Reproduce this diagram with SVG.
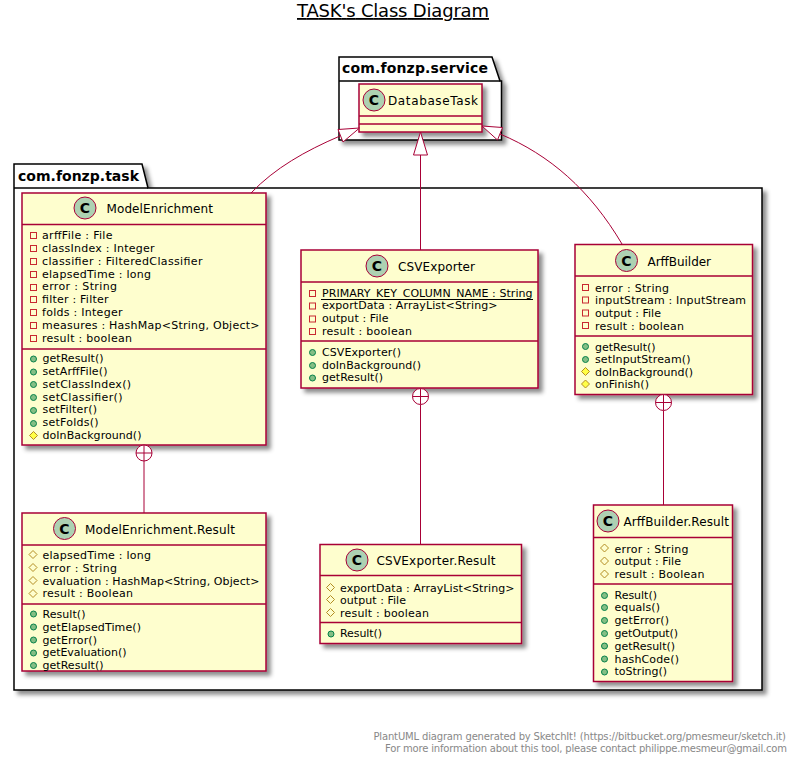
<svg xmlns="http://www.w3.org/2000/svg" width="797" height="764" viewBox="0 0 797 764">
<style>
text{font-family:"DejaVu Sans",sans-serif;fill:#000}
.t{font-size:18px;text-decoration:underline}
.f{font-size:10px;fill:#888}
.p{font-size:14px;font-weight:bold}
.n{font-size:12px}
.m{font-size:11px}
.b{fill:#FEFECE;stroke:#A80036;stroke-width:1.5}
.s{stroke:#A80036;stroke-width:1.5;fill:none}
.pk{fill:#fff;stroke:#000;stroke-width:1.5}
.ci{fill:#ADD1B2;stroke:#A80036}
.cl{font-size:14px;font-weight:bold;text-anchor:middle}
.e{fill:none;stroke:#A80036}
.h{fill:#fff;stroke:#A80036}
.pr{fill:none;stroke:#C82930}
.pt{fill:none;stroke:#B38D22}
.py{fill:#FFFF44;stroke:#B38D22}
.pb{fill:#84BE84;stroke:#038048}
</style>
<defs>
<filter id="sh" x="-10%" y="-10%" width="125%" height="125%"><feDropShadow dx="4" dy="4" stdDeviation="2" flood-color="#000" flood-opacity="0.45"/></filter>
</defs>
<text class="t" x="297" y="17" textLength="192">TASK's Class Diagram</text>
<g id="pkg-service">
<path class="pk" filter="url(#sh)" d="M339 57H492L500 81H501.500V140H339Z"/>
<path class="s" style="stroke:#000" d="M339 81H500"/>
<text class="p" x="342" y="73" textLength="146">com.fonzp.service</text>
</g>
<g id="pkg-task">
<path class="pk" filter="url(#sh)" d="M14 164H142L148 188H762V690H14Z"/>
<path class="s" style="stroke:#000" d="M14 188H148"/>
<text class="p" x="18" y="181" textLength="121">com.fonzp.task</text>
</g>
<g id="DatabaseTask">
<rect class="b" filter="url(#sh)" x="359" y="84" width="123" height="48"/>
<path class="s" d="M359 116H482M359 124H482"/>
<circle class="ci" cx="374" cy="100" r="11"/><text class="cl" x="374" y="105">C</text>
<text class="n" x="388" y="105" textLength="90">DatabaseTask</text>
</g>
<g id="ModelEnrichment">
<rect class="b" filter="url(#sh)" x="22" y="193" width="244" height="252"/>
<path class="s" d="M22 224.500H266M22 349H266"/>
<circle class="ci" cx="85" cy="208" r="11"/><text class="cl" x="85" y="213">C</text>
<text class="n" x="106.500" y="213" textLength="106.500">ModelEnrichment</text>
<g class="pr"><rect x="30.500" y="232.500" width="6" height="6"/><rect x="30.500" y="245.500" width="6" height="6"/><rect x="30.500" y="258.500" width="6" height="6"/><rect x="30.500" y="271.500" width="6" height="6"/><rect x="30.500" y="284.500" width="6" height="6"/><rect x="30.500" y="296.500" width="6" height="6"/><rect x="30.500" y="309.500" width="6" height="6"/><rect x="30.500" y="322.500" width="6" height="6"/><rect x="30.500" y="335.500" width="6" height="6"/></g>
<text class="m" x="42" y="239" textLength="70.500">arffFile : File</text>
<text class="m" x="42" y="252" textLength="112.500">classIndex : Integer</text>
<text class="m" x="42" y="265" textLength="160.500">classifier : FilteredClassifier</text>
<text class="m" x="42" y="278" textLength="109">elapsedTime : long</text>
<text class="m" x="42" y="290" textLength="75">error : String</text>
<text class="m" x="42" y="303" textLength="66.500">filter : Filter</text>
<text class="m" x="42" y="316" textLength="80.500">folds : Integer</text>
<text class="m" x="42" y="329" textLength="217.500">measures : HashMap&lt;String, Object&gt;</text>
<text class="m" x="42" y="342" textLength="90">result : boolean</text>
<g class="pb"><circle cx="33.500" cy="359" r="3"/><circle cx="33.500" cy="372" r="3"/><circle cx="33.500" cy="384.500" r="3"/><circle cx="33.500" cy="397.500" r="3"/><circle cx="33.500" cy="410.500" r="3"/><circle cx="33.500" cy="423.500" r="3"/></g>
<path class="py" d="M33.500 431.500L37.500 435.500L33.500 439.500L29.500 435.500Z"/>
<text class="m" x="42.500" y="362" textLength="61">getResult()</text>
<text class="m" x="42.500" y="375" textLength="65">setArffFile()</text>
<text class="m" x="42.500" y="388" textLength="88.500">setClassIndex()</text>
<text class="m" x="42.500" y="401" textLength="80">setClassifier()</text>
<text class="m" x="42.500" y="413" textLength="54.500">setFilter()</text>
<text class="m" x="42.500" y="426" textLength="56">setFolds()</text>
<text class="m" x="42.500" y="439" textLength="99">doInBackground()</text>
</g>
<g id="CSVExporter">
<rect class="b" filter="url(#sh)" x="301" y="250" width="237" height="138"/>
<path class="s" d="M301 282H538M301 341H538"/>
<circle class="ci" cx="377" cy="266" r="11"/><text class="cl" x="377" y="271">C</text>
<text class="n" x="398" y="271" textLength="77">CSVExporter</text>
<g class="pr"><rect x="309.500" y="290.500" width="6" height="6"/><rect x="309.500" y="303" width="6" height="6"/><rect x="309.500" y="316" width="6" height="6"/><rect x="309.500" y="328.500" width="6" height="6"/></g>
<text class="m" x="322" y="297" textLength="210.500">PRIMARY_KEY_COLUMN_NAME : String</text>
<path d="M321 299.500H533" stroke="#000" fill="none"/>
<text class="m" x="322" y="309" textLength="175.500">exportData : ArrayList&lt;String&gt;</text>
<text class="m" x="322" y="322" textLength="66.500">output : File</text>
<text class="m" x="322" y="335" textLength="90">result : boolean</text>
<g class="pb"><circle cx="312.500" cy="352.500" r="3"/><circle cx="312.500" cy="365.500" r="3"/><circle cx="312.500" cy="378" r="3"/></g>
<text class="m" x="322" y="356" textLength="79">CSVExporter()</text>
<text class="m" x="322" y="369" textLength="99">doInBackground()</text>
<text class="m" x="322" y="381" textLength="61">getResult()</text>
</g>
<g id="ArffBuilder">
<rect class="b" filter="url(#sh)" x="575" y="244.500" width="177.500" height="150"/>
<path class="s" d="M575 276H752.500M575 336H752.500"/>
<circle class="ci" cx="626.500" cy="260.500" r="11"/><text class="cl" x="626.500" y="265.500">C</text>
<text class="n" x="647.500" y="265.500" textLength="63.500">ArffBuilder</text>
<g class="pr"><rect x="582.500" y="284.500" width="6" height="6"/><rect x="582.500" y="297" width="6" height="6"/><rect x="582.500" y="310" width="6" height="6"/><rect x="582.500" y="322.500" width="6" height="6"/></g>
<text class="m" x="595" y="291.500" textLength="74">error : String</text>
<text class="m" x="595" y="304" textLength="151">inputStream : InputStream</text>
<text class="m" x="595" y="316.500" textLength="66">output : File</text>
<text class="m" x="595" y="329.500" textLength="89">result : boolean</text>
<g class="pb"><circle cx="585.500" cy="346.500" r="3"/><circle cx="585.500" cy="359.500" r="3"/></g>
<path class="py" d="M585.500 367.500L589.500 371.500L585.500 375.500L581.500 371.500Z"/>
<path class="py" d="M585.500 380L589.500 384L585.500 388L581.500 384Z"/>
<text class="m" x="595" y="350.500" textLength="60.500">getResult()</text>
<text class="m" x="595" y="363" textLength="95.500">setInputStream()</text>
<text class="m" x="595" y="375.500" textLength="98">doInBackground()</text>
<text class="m" x="595" y="388" textLength="54">onFinish()</text>
</g>
<g id="ModelEnrichment.Result">
<rect class="b" filter="url(#sh)" x="22" y="513" width="244" height="158"/>
<path class="s" d="M22 545H266M22 604H266"/>
<circle class="ci" cx="64.500" cy="528.500" r="11"/><text class="cl" x="64.500" y="533.500">C</text>
<text class="n" x="85" y="534" textLength="150">ModelEnrichment.Result</text>
<g class="pt"><path d="M33 550.500L37 554.500L33 558.500L29 554.500Z"/><path d="M33 563.500L37 567.500L33 571.500L29 567.500Z"/><path d="M33 576.500L37 580.500L33 584.500L29 580.500Z"/><path d="M33 589.500L37 593.500L33 597.500L29 593.500Z"/></g>
<text class="m" x="42.500" y="559" textLength="108.500">elapsedTime : long</text>
<text class="m" x="42.500" y="572" textLength="74.500">error : String</text>
<text class="m" x="42.500" y="585" textLength="217">evaluation : HashMap&lt;String, Object&gt;</text>
<text class="m" x="42.500" y="597" textLength="90.500">result : Boolean</text>
<g class="pb"><circle cx="33.500" cy="614" r="3"/><circle cx="33.500" cy="627" r="3"/><circle cx="33.500" cy="640" r="3"/><circle cx="33.500" cy="653" r="3"/><circle cx="33.500" cy="665.500" r="3"/></g>
<text class="m" x="42.500" y="618" textLength="43">Result()</text>
<text class="m" x="42.500" y="631" textLength="98.500">getElapsedTime()</text>
<text class="m" x="42.500" y="644" textLength="54.500">getError()</text>
<text class="m" x="42.500" y="656" textLength="84">getEvaluation()</text>
<text class="m" x="42.500" y="669" textLength="61">getResult()</text>
</g>
<g id="CSVExporter.Result">
<rect class="b" filter="url(#sh)" x="320" y="544.500" width="201.500" height="99"/>
<path class="s" d="M320 575.500H521.500M320 622.500H521.500"/>
<circle class="ci" cx="357" cy="560" r="11"/><text class="cl" x="357" y="565">C</text>
<text class="n" x="376.500" y="565" textLength="119">CSVExporter.Result</text>
<g class="pt"><path d="M330.500 583.500L334.500 587.500L330.500 591.500L326.500 587.500Z"/><path d="M330.500 595.500L334.500 599.500L330.500 603.500L326.500 599.500Z"/><path d="M330.500 608.500L334.500 612.500L330.500 616.500L326.500 612.500Z"/></g>
<text class="m" x="340" y="591.500" textLength="174.500">exportData : ArrayList&lt;String&gt;</text>
<text class="m" x="340" y="604" textLength="66">output : File</text>
<text class="m" x="340" y="616.500" textLength="89">result : boolean</text>
<circle class="pb" cx="331" cy="634" r="3"/>
<text class="m" x="340" y="636.500" textLength="42">Result()</text>
</g>
<g id="ArffBuilder.Result">
<rect class="b" filter="url(#sh)" x="593.500" y="505" width="139" height="176.500"/>
<path class="s" d="M593.500 537.500H732.500M593.500 584H732.500"/>
<circle class="ci" cx="608" cy="521" r="11"/><text class="cl" x="608" y="526">C</text>
<text class="n" x="623.500" y="526" textLength="105.500">ArffBuilder.Result</text>
<g class="pt"><path d="M604.500 544L608.500 548L604.500 552L600.500 548Z"/><path d="M604.500 557L608.500 561L604.500 565L600.500 561Z"/><path d="M604.500 570L608.500 574L604.500 578L600.500 574Z"/></g>
<text class="m" x="614.500" y="552.500" textLength="74">error : String</text>
<text class="m" x="614.500" y="565" textLength="66.500">output : File</text>
<text class="m" x="614.500" y="578" textLength="90">result : Boolean</text>
<g class="pb"><circle cx="604.500" cy="595.500" r="3"/><circle cx="604.500" cy="607.500" r="3"/><circle cx="604.500" cy="620.500" r="3"/><circle cx="604.500" cy="633.500" r="3"/><circle cx="604.500" cy="646" r="3"/><circle cx="604.500" cy="659" r="3"/><circle cx="604.500" cy="672" r="3"/></g>
<text class="m" x="614.500" y="599" textLength="42.500">Result()</text>
<text class="m" x="614.500" y="611" textLength="45.500">equals()</text>
<text class="m" x="614.500" y="624" textLength="54.500">getError()</text>
<text class="m" x="614.500" y="637" textLength="63.500">getOutput()</text>
<text class="m" x="614.500" y="650" textLength="60.500">getResult()</text>
<text class="m" x="614.500" y="663" textLength="64.500">hashCode()</text>
<text class="m" x="614.500" y="675" textLength="52.500">toString()</text>
</g>
<g id="connectors">
<path class="e" d="M251 193C275 168 305 151 340 136"/>
<path class="e" d="M500 134C550 155 590 190 622 244"/>
<path class="e" d="M420.500 155V250"/>
<path class="h" d="M359.500 128L338 129.500L343 142Z"/>
<path class="h" d="M482 126L502.500 127.500L497.500 140Z"/>
<path class="h" d="M420.500 132L413.500 155H427.500Z"/>
<path class="e" d="M420.500 404.500V544M663.500 410.500V505M144 461V513"/>
<g class="h">
<circle cx="420.500" cy="396.500" r="8"/><circle cx="663.500" cy="402.500" r="8"/><circle cx="144" cy="453" r="8"/>
</g>
<path class="e" d="M412.500 396.500H428.500M420.500 388.500V404.500M655.500 402.500H671.500M663.500 394.500V410.500M136 453H152M144 445V461"/>
</g>
<text class="f" x="373.500" y="740" textLength="412.500">PlantUML diagram generated by SketchIt! (https://bitbucket.org/pmesmeur/sketch.it)</text>
<text class="f" x="385" y="752" textLength="402">For more information about this tool, please contact philippe.mesmeur@gmail.com</text>
</svg>
